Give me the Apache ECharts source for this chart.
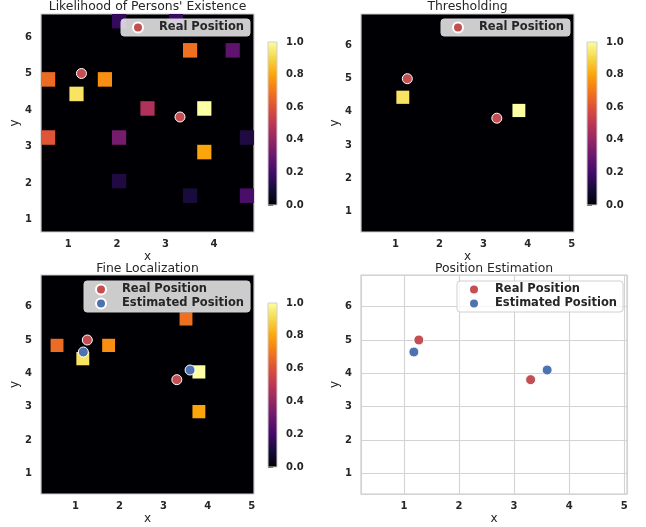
<!DOCTYPE html>
<html>
<head>
<meta charset="utf-8">
<script src="https://cdn.jsdelivr.net/npm/echarts@6/dist/echarts.min.js"></script>
<style>
html,body{margin:0;padding:0;background:#ffffff;}
#chart{width:646px;height:527px;}
</style>
</head>
<body>
<div id="chart"></div>
<script>
// ---------------- data ----------------
const panelTitles = ["Likelihood of Persons' Existence", "Thresholding", "Fine Localization", "Position Estimation"];
const realPositions = [[1.27, 5.00], [3.30, 3.81]];
const estimatedPositions = [[1.18, 4.64], [3.60, 4.10]];
// heat-map cells on a 15 x 15 grid: [column, rowFromTop, value]
const likelihoodCells = [
  [5, 0, 0.17], [9, 0, 0.18],
  [10, 2, 0.68], [13, 2, 0.27],
  [0, 4, 0.67], [4, 4, 0.75],
  [2, 5, 0.93],
  [7, 6, 0.47], [11, 6, 1.00],
  [0, 8, 0.61], [5, 8, 0.33], [14, 8, 0.12],
  [11, 9, 0.80],
  [5, 11, 0.12],
  [10, 12, 0.11], [14, 12, 0.22]
];
const thresholdCells = [[2, 5, 0.93], [11, 6, 1.00]];
const fineCells = [[10, 2, 0.68], [0, 4, 0.67], [4, 4, 0.75], [2, 5, 0.93], [11, 6, 1.00], [11, 9, 0.80]];
const heatExtentX = [0.437, 4.824];
const heatExtentY = [0.664, 6.627];
const heatCellsPerSide = 15;
const panelRangeX = [0.22, 5.05];
const panelRangeY = [0.38, 6.95];
const colorbarTicks = [0.0, 0.2, 0.4, 0.6, 0.8, 1.0];
const infernoStops = ['#000004', '#160b39', '#420a68', '#6a176e', '#932667', '#bc3754',
                      '#dd513a', '#f37819', '#fca50a', '#f6d746', '#fcffa4'];

// ---------------- styles ----------------
const FONT = 'DejaVu Sans';
const DARK = '#262626';
const RED = '#c44e52';
const BLUE = '#4c72b0';

const chart = echarts.init(document.getElementById('chart'), null, {renderer: 'canvas'});

const grids = [
  {left: 41, top: 14, width: 213, height: 218, dark: true},
  {left: 361, top: 14, width: 213, height: 218, dark: true},
  {left: 41, top: 275, width: 213, height: 219, dark: true},
  {left: 361, top: 275, width: 266, height: 219, dark: false},
  // colorbars
  {left: 268, top: 42, width: 9, height: 163, bar: true},
  {left: 587, top: 42, width: 10, height: 163, bar: true},
  {left: 268, top: 303, width: 9, height: 164, bar: true}
];

const intLabel = v => (Math.abs(v - Math.round(v)) < 1e-6 ? String(Math.round(v)) : '');
const tickFont = {fontFamily: FONT, fontSize: 10, fontWeight: 'bold', color: DARK};
const nameFont = {fontFamily: FONT, fontSize: 12, color: DARK};

const xAxes = [], yAxes = [];
grids.forEach((g, i) => {
  if (g.bar) {
    xAxes.push({gridIndex: i, type: 'value', min: 0, max: 1, show: false});
    yAxes.push({
      gridIndex: i, type: 'value', min: colorbarTicks[0], max: colorbarTicks[colorbarTicks.length - 1],
      interval: 0.2, position: 'right',
      axisLine: {show: false}, splitLine: {show: false},
      axisTick: {show: true, length: 5, lineStyle: {color: DARK, width: 1}},
      axisLabel: Object.assign({margin: 9, formatter: v => v.toFixed(1)}, tickFont)
    });
    return;
  }
  const rx = i === 0 ? heatExtentX : panelRangeX;
  const ry = i === 0 ? heatExtentY : panelRangeY;
  const gridLines = !g.dark;
  xAxes.push({
    gridIndex: i, type: 'value', min: rx[0], max: rx[1], minInterval: 1, maxInterval: 1,
    name: 'x', nameLocation: 'middle', nameGap: 19, nameTextStyle: nameFont,
    axisLine: {show: false}, axisTick: {show: false},
    axisLabel: Object.assign({margin: 7, formatter: intLabel, showMinLabel: false, showMaxLabel: false}, tickFont),
    splitLine: {show: gridLines, lineStyle: {color: '#d3d3d3', width: 1.1}}
  });
  yAxes.push({
    gridIndex: i, type: 'value', min: ry[0], max: ry[1], minInterval: 1, maxInterval: 1,
    name: 'y', nameLocation: 'middle', nameGap: 20, nameTextStyle: nameFont,
    axisLine: {show: false}, axisTick: {show: false},
    axisLabel: Object.assign({margin: 9, formatter: intLabel, showMinLabel: false, showMaxLabel: false}, tickFont),
    splitLine: {show: gridLines, lineStyle: {color: '#d3d3d3', width: 1.1}}
  });
});

function cellRender(params, api) {
  const n = heatCellsPerSide;
  const dx = (heatExtentX[1] - heatExtentX[0]) / n;
  const dy = (heatExtentY[1] - heatExtentY[0]) / n;
  const c = api.value(0), r = api.value(1);
  const p0 = api.coord([heatExtentX[0] + c * dx, heatExtentY[1] - r * dy]);
  const p1 = api.coord([heatExtentX[0] + (c + 1) * dx, heatExtentY[1] - (r + 1) * dy]);
  return {
    type: 'rect',
    shape: {x: p0[0], y: p0[1], width: p1[0] - p0[0], height: p1[1] - p0[1]},
    style: {fill: api.visual('color')}
  };
}

function colorbarRender(params, api) {
  const p0 = api.coord([0, 1]);
  const p1 = api.coord([1, 0]);
  const stops = infernoStops.map((c, k) => ({offset: k / (infernoStops.length - 1), color: c}));
  return {
    type: 'rect',
    shape: {x: p0[0], y: p0[1], width: p1[0] - p0[0], height: p1[1] - p0[1]},
    style: {
      fill: new echarts.graphic.LinearGradient(0, 1, 0, 0, stops),
      stroke: '#cfcfcf', lineWidth: 1
    }
  };
}

const dotStyle = color => ({color: color, borderColor: '#ffffff', borderWidth: 1, opacity: 1});

const series = [
  {type: 'custom', name: 'likelihood', xAxisIndex: 0, yAxisIndex: 0, data: likelihoodCells, renderItem: cellRender, z: 1, silent: true},
  {type: 'custom', name: 'threshold', xAxisIndex: 1, yAxisIndex: 1, data: thresholdCells, renderItem: cellRender, z: 1, silent: true},
  {type: 'custom', name: 'fine', xAxisIndex: 2, yAxisIndex: 2, data: fineCells, renderItem: cellRender, z: 1, silent: true},
  {type: 'scatter', name: 'Real Position', xAxisIndex: 0, yAxisIndex: 0, data: realPositions, symbolSize: 10, itemStyle: dotStyle(RED), z: 3},
  {type: 'scatter', name: 'Real Position', xAxisIndex: 1, yAxisIndex: 1, data: realPositions, symbolSize: 10, itemStyle: dotStyle(RED), z: 3},
  {type: 'scatter', name: 'Real Position', xAxisIndex: 2, yAxisIndex: 2, data: realPositions, symbolSize: 10, itemStyle: dotStyle(RED), z: 3},
  {type: 'scatter', name: 'Estimated Position', xAxisIndex: 2, yAxisIndex: 2, data: estimatedPositions, symbolSize: 10, itemStyle: dotStyle(BLUE), z: 3},
  {type: 'scatter', name: 'Real Position', xAxisIndex: 3, yAxisIndex: 3, data: realPositions, symbolSize: 10, itemStyle: dotStyle(RED), z: 3},
  {type: 'scatter', name: 'Estimated Position', xAxisIndex: 3, yAxisIndex: 3, data: estimatedPositions, symbolSize: 10, itemStyle: dotStyle(BLUE), z: 3},
  {type: 'custom', name: 'cb1', xAxisIndex: 4, yAxisIndex: 4, data: [[0.5, 0.5]], renderItem: colorbarRender, silent: true},
  {type: 'custom', name: 'cb2', xAxisIndex: 5, yAxisIndex: 5, data: [[0.5, 0.5]], renderItem: colorbarRender, silent: true},
  {type: 'custom', name: 'cb3', xAxisIndex: 6, yAxisIndex: 6, data: [[0.5, 0.5]], renderItem: colorbarRender, silent: true}
];

const legendText = {fontFamily: FONT, fontSize: 11.5, fontWeight: 'bold', color: DARK, lineHeight: 13};
function legend(left, top, names, bg) {
  return {
    left: left, top: top, orient: 'vertical', data: names, selectedMode: false,
    icon: 'circle', itemWidth: 32, itemHeight: 10, itemGap: 1,
    padding: [2, 6, 2, 11],
    backgroundColor: bg, borderColor: '#d0d0d0', borderWidth: 1, borderRadius: 3,
    textStyle: legendText
  };
}

const titleGraphics = [
  [147.5, 7, panelTitles[0]], [467.5, 7, panelTitles[1]],
  [147.5, 268.5, panelTitles[2]], [494, 268.5, panelTitles[3]]
].map(t => ({
  type: 'text', x: t[0], y: t[1], silent: true,
  style: {text: t[2], fontFamily: FONT, fontSize: 12.4, fill: DARK, textAlign: 'center', textVerticalAlign: 'middle'}
}));

chart.setOption({
  animation: false,
  backgroundColor: '#ffffff',
  grid: grids.map(g => ({
    left: g.left, top: g.top, width: g.width, height: g.height, containLabel: false,
    show: !g.bar, backgroundColor: g.dark ? '#000004' : '#ffffff',
    borderColor: '#cccccc', borderWidth: 1.2
  })),
  xAxis: xAxes,
  yAxis: yAxes,
  visualMap: {
    type: 'continuous', show: false, min: 0, max: 1, dimension: 2,
    seriesIndex: [0, 1, 2], inRange: {color: infernoStops}
  },
  legend: [
    legend(121, 19, ['Real Position'], 'rgba(255,255,255,0.8)'),
    legend(441, 19, ['Real Position'], 'rgba(255,255,255,0.8)'),
    legend(84, 281, ['Real Position', 'Estimated Position'], 'rgba(255,255,255,0.8)'),
    legend(457, 281, ['Real Position', 'Estimated Position'], 'rgba(255,255,255,0.8)')
  ],
  graphic: titleGraphics,
  series: series
});
</script>
</body>
</html>
